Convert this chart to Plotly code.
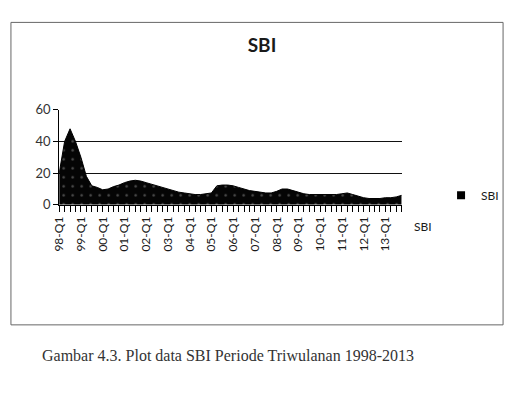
import plotly.graph_objects as go

# Quarterly SBI rate 1998-Q1 .. 2013-Q4
sbi_1998 = [20, 40, 48, 40]
sbi_1999 = [30, 18, 12, 11]
sbi_2000 = [9.5, 10, 11.5, 12.5]
sbi_2001 = [14, 15, 15.5, 15]
sbi_2002 = [14, 13, 12, 11]
sbi_2003 = [10, 9, 8, 7.5]
sbi_2004 = [7, 6.5, 6.5, 7]
sbi_2005 = [7.5, 12, 12.5, 12.5]
sbi_2006 = [12, 11, 10, 9]
sbi_2007 = [8.5, 8, 7.5, 7.5]
sbi_2008 = [8.5, 10, 10, 9]
sbi_2009 = [8, 7, 6.5, 6.5]
sbi_2010 = [6.3, 6.3, 6.5, 6.5]
sbi_2011 = [7, 7.5, 6.5, 5.5]
sbi_2012 = [4.5, 4, 4, 4]
sbi_2013 = [4.5, 4.5, 5, 6]

years = ["98", "99", "00", "01", "02", "03", "04", "05",
         "06", "07", "08", "09", "10", "11", "12", "13"]
tick_labels = [y + "-Q1" for y in years]
y_ticks = [0, 20, 40, 60]

sbi = (sbi_1998 + sbi_1999 + sbi_2000 + sbi_2001 + sbi_2002 + sbi_2003 +
       sbi_2004 + sbi_2005 + sbi_2006 + sbi_2007 + sbi_2008 + sbi_2009 +
       sbi_2010 + sbi_2011 + sbi_2012 + sbi_2013)
x_idx = list(range(len(sbi)))
tick_pos = x_idx[::4]

W, H = 507, 402
def px(x):
    return x / W
def py(y):
    return 1 - y / H

fig = go.Figure()
fig.add_trace(go.Scatter(
    x=x_idx, y=sbi, mode="lines", name="SBI", showlegend=False,
    line=dict(color="black", width=1),
    fill="tozeroy", fillcolor="black",
    fillpattern=dict(shape=".", bgcolor="#050505", fgcolor="#9a9a9a",
                     size=9, solidity=0.06),
))
# legend entry (small black square, as in the reference)
fig.add_trace(go.Scatter(
    x=[None], y=[None], mode="markers", name="SBI",
    marker=dict(symbol="square", size=8, color="black"),
))

fig.update_layout(
    width=W, height=H,
    margin=dict(l=0, r=0, t=0, b=0),
    paper_bgcolor="white", plot_bgcolor="white",
    title=dict(text="<b>SBI</b>", x=px(262), y=py(45), xanchor="center",
               yanchor="middle", font=dict(family="Lato", size=19, color="#1a1a1a")),
    showlegend=True,
    legend=dict(x=px(440), y=py(195), xanchor="left", yanchor="middle",
                font=dict(family="Lato", size=12, color="#1a1a1a"),
                itemwidth=30, bgcolor="rgba(0,0,0,0)"),
    xaxis=dict(domain=[px(52), px(400)], range=[0, len(sbi) - 1],
               tickvals=tick_pos, ticktext=tick_labels, tickangle=-90,
               ticks="outside", ticklen=6, tickcolor="black",
               minor=dict(dtick=1, tick0=0, ticks="outside", ticklen=6,
                          tickcolor="black"),
               showgrid=False, zeroline=False, showline=True,
               linecolor="black", linewidth=1,
               tickfont=dict(family="Lato", size=12, color="#1a1a1a")),
    yaxis=dict(domain=[py(205), py(106)], range=[0, 60],
               tickvals=y_ticks, ticks="outside", ticklen=5,
               tickcolor="black", showgrid=True, gridcolor="#111",
               gridwidth=1, zeroline=False, showline=True,
               linecolor="black", linewidth=1,
               tickfont=dict(family="Lato", size=13, color="#333")),
    shapes=[dict(type="rect", xref="paper", yref="paper",
                 x0=px(3), x1=px(503), y0=py(330), y1=py(15),
                 line=dict(color="#666", width=1))],
    annotations=[
        dict(text="SBI", xref="paper", yref="paper", x=px(410), y=py(228),
             xanchor="left", yanchor="middle", showarrow=False,
             font=dict(family="Lato", size=12, color="#1a1a1a")),
        dict(text="Gambar 4.3. Plot data SBI Periode Triwulanan 1998-2013",
             xref="paper", yref="paper", x=px(33), y=py(362),
             xanchor="left", yanchor="middle", showarrow=False,
             font=dict(family="Liberation Serif", size=16, color="#333")),
    ],
)

fig.write_html("out.html")
